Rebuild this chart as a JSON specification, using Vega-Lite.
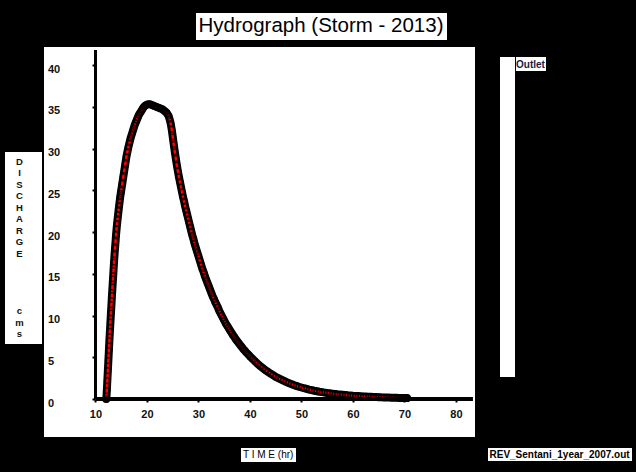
{
  "$schema": "https://vega.github.io/schema/vega-lite/v6.json",
  "width": 431,
  "height": 390,
  "autosize": {"type": "none"},
  "padding": {"left": 44, "top": 47, "right": 161, "bottom": 35},
  "background": "black",
  "config": {
    "view": {"fill": "white", "stroke": null},
    "font": "Liberation Sans",
    "axisX": {"offset": -38, "domain": false, "grid": false, "ticks": true, "tickSize": 3, "tickWidth": 2, "tickColor": "black", "labelPadding": 6,
      "labelFont": "Liberation Sans", "labelFontSize": 11, "labelFontWeight": "bold", "labelColor": "#111111"},
    "axisY": {"offset": -51, "domain": false, "grid": false, "ticks": true, "tickSize": 3, "tickWidth": 2, "tickColor": "black", "labelPadding": 44.5, "labelAlign": "left", "labelOffset": 4,
      "labelFont": "Liberation Sans", "labelFontSize": 11, "labelFontWeight": "bold", "labelColor": "#111111"}
  },
  "data": {"values": [
    {"t":12.1,"q":0},{"t":12.2,"q":1.0},{"t":12.3,"q":2.2},{"t":12.4,"q":3.4},{"t":12.5,"q":4.6},{"t":12.6,"q":5.8},{"t":12.7,"q":7.0},{"t":12.8,"q":8.1},{"t":12.9,"q":9.2},{"t":13.0,"q":10.3},
    {"t":13.1,"q":11.3},{"t":13.2,"q":12.4},{"t":13.3,"q":13.4},{"t":13.4,"q":14.4},{"t":13.5,"q":15.4},{"t":13.6,"q":16.4},{"t":13.7,"q":17.3},{"t":13.8,"q":18.1},{"t":13.9,"q":18.9},{"t":14.0,"q":19.7},
    {"t":14.1,"q":20.4},{"t":14.2,"q":21.0},{"t":14.3,"q":21.6},{"t":14.4,"q":22.1},{"t":14.5,"q":22.7},{"t":14.6,"q":23.2},{"t":14.7,"q":23.7},{"t":14.8,"q":24.2},{"t":14.9,"q":24.6},{"t":15.0,"q":25.0},
    {"t":15.2,"q":25.8},{"t":15.4,"q":26.6},{"t":15.6,"q":27.4},{"t":15.8,"q":28.2},{"t":16.0,"q":29.0},{"t":16.2,"q":29.6},{"t":16.4,"q":30.2},{"t":16.6,"q":30.7},{"t":16.8,"q":31.2},{"t":17.0,"q":31.6},
    {"t":17.2,"q":32.0},{"t":17.4,"q":32.4},{"t":17.6,"q":32.8},{"t":17.8,"q":33.1},{"t":18.0,"q":33.4},{"t":18.2,"q":33.7},{"t":18.4,"q":34.0},{"t":18.6,"q":34.2},{"t":18.8,"q":34.4},{"t":19.0,"q":34.6},
    {"t":19.2,"q":34.8},{"t":19.4,"q":35.0},{"t":19.6,"q":35.1},{"t":19.8,"q":35.2},{"t":20.0,"q":35.25},{"t":20.2,"q":35.3},{"t":20.4,"q":35.3},{"t":20.6,"q":35.3},{"t":20.8,"q":35.25},{"t":21.0,"q":35.2},
    {"t":21.2,"q":35.15},{"t":21.4,"q":35.1},{"t":21.6,"q":35.05},{"t":21.8,"q":35.0},{"t":22.0,"q":34.95},{"t":22.2,"q":34.9},{"t":22.4,"q":34.85},{"t":22.6,"q":34.8},{"t":22.8,"q":34.75},{"t":23.0,"q":34.7},
    {"t":23.2,"q":34.6},{"t":23.4,"q":34.5},{"t":23.6,"q":34.4},{"t":23.8,"q":34.3},{"t":24.0,"q":34.1},{"t":24.2,"q":33.9},{"t":24.4,"q":33.5},{"t":24.6,"q":33.0},{"t":24.8,"q":32.3},{"t":25.0,"q":31.4},
    {"t":25.2,"q":30.5},{"t":25.4,"q":29.6},{"t":25.6,"q":28.8},{"t":25.8,"q":28.0},{"t":26.0,"q":27.3},{"t":26.2,"q":26.6},{"t":26.4,"q":26.0},{"t":26.6,"q":25.4},{"t":26.8,"q":24.8},{"t":27.0,"q":24.2},
    {"t":27.2,"q":23.7},{"t":27.4,"q":23.1},{"t":27.6,"q":22.6},{"t":27.8,"q":22.1},{"t":28.0,"q":21.6},{"t":28.2,"q":21.1},{"t":28.4,"q":20.6},{"t":28.6,"q":20.1},{"t":28.8,"q":19.6},{"t":29.0,"q":19.2},
    {"t":29.2,"q":18.7},{"t":29.4,"q":18.3},{"t":29.6,"q":17.9},{"t":29.8,"q":17.5},{"t":30.0,"q":17.1},{"t":30.25,"q":16.6},{"t":30.5,"q":16.1},{"t":30.75,"q":15.6},{"t":31.0,"q":15.2},{"t":31.25,"q":14.7},
    {"t":31.5,"q":14.3},{"t":31.75,"q":13.9},{"t":32.0,"q":13.5},{"t":32.25,"q":13.1},{"t":32.5,"q":12.7},{"t":32.75,"q":12.3},{"t":33.0,"q":12.0},{"t":33.25,"q":11.6},{"t":33.5,"q":11.3},{"t":33.75,"q":11.0},
    {"t":34.0,"q":10.6},{"t":34.25,"q":10.3},{"t":34.5,"q":10.0},{"t":34.75,"q":9.7},{"t":35.0,"q":9.4},{"t":35.25,"q":9.1},{"t":35.5,"q":8.85},{"t":35.75,"q":8.6},{"t":36.0,"q":8.35},{"t":36.25,"q":8.1},
    {"t":36.5,"q":7.85},{"t":36.75,"q":7.6},{"t":37.0,"q":7.4},{"t":37.25,"q":7.15},{"t":37.5,"q":6.95},{"t":37.75,"q":6.75},{"t":38.0,"q":6.55},{"t":38.25,"q":6.35},{"t":38.5,"q":6.15},{"t":38.75,"q":5.95},
    {"t":39.0,"q":5.8},{"t":39.25,"q":5.6},{"t":39.5,"q":5.45},{"t":39.75,"q":5.3},{"t":40.0,"q":5.1},{"t":40.5,"q":4.8},{"t":41.0,"q":4.5},{"t":41.5,"q":4.2},{"t":42.0,"q":3.95},{"t":42.5,"q":3.7},
    {"t":43.0,"q":3.45},{"t":43.5,"q":3.25},{"t":44.0,"q":3.05},{"t":44.5,"q":2.85},{"t":45.0,"q":2.65},{"t":45.5,"q":2.5},{"t":46.0,"q":2.35},{"t":46.5,"q":2.2},{"t":47.0,"q":2.05},{"t":47.5,"q":1.92},
    {"t":48.0,"q":1.8},{"t":48.5,"q":1.68},{"t":49.0,"q":1.57},{"t":49.5,"q":1.47},{"t":50.0,"q":1.38},{"t":50.5,"q":1.29},{"t":51.0,"q":1.21},{"t":51.5,"q":1.13},{"t":52.0,"q":1.06},{"t":52.5,"q":0.99},
    {"t":53.0,"q":0.93},{"t":53.5,"q":0.87},{"t":54.0,"q":0.82},{"t":54.5,"q":0.77},{"t":55.0,"q":0.72},{"t":55.5,"q":0.68},{"t":56.0,"q":0.64},{"t":56.5,"q":0.6},{"t":57.0,"q":0.56},{"t":57.5,"q":0.53},
    {"t":58.0,"q":0.5},{"t":58.5,"q":0.47},{"t":59.0,"q":0.44},{"t":59.5,"q":0.42},{"t":60.0,"q":0.39},{"t":60.5,"q":0.37},{"t":61.0,"q":0.35},{"t":61.5,"q":0.33},{"t":62.0,"q":0.31},{"t":62.5,"q":0.29},
    {"t":63.0,"q":0.27},{"t":63.5,"q":0.26},{"t":64.0,"q":0.24},{"t":64.5,"q":0.23},{"t":65.0,"q":0.22},{"t":65.5,"q":0.2},{"t":66.0,"q":0.19},{"t":66.5,"q":0.18},{"t":67.0,"q":0.17},{"t":67.5,"q":0.16},
    {"t":68.0,"q":0.15},{"t":68.5,"q":0.14},{"t":69.0,"q":0.13},{"t":69.5,"q":0.12},{"t":70.0,"q":0.12},{"t":70.5,"q":0.11}
  ]},
  "layer": [
    {
      "mark": {"type": "line", "color": "black", "strokeWidth": 8, "strokeCap": "round", "strokeJoin": "round"},
      "encoding": {
        "x": {"field": "t", "type": "quantitative", "scale": {"domain": [0, 83.7], "nice": false, "zero": false},
          "axis": {"title": null, "values": [10, 20, 30, 40, 50, 60, 70, 80]}},
        "y": {"field": "q", "type": "quantitative", "scale": {"domain": [-4.55, 42.16], "nice": false, "zero": false},
          "axis": {"title": null, "values": [0, 5, 10, 15, 20, 25, 30, 35, 40]}}
      }
    },
    {
      "mark": {"type": "line", "strokeWidth": 2.5},
      "encoding": {
        "x": {"field": "t", "type": "quantitative", "axis": {"title": null, "values": [10, 20, 30, 40, 50, 60, 70, 80]}},
        "y": {"field": "q", "type": "quantitative", "axis": {"title": null, "values": [0, 5, 10, 15, 20, 25, 30, 35, 40]}},
        "color": {"datum": "Outlet", "type": "nominal", "scale": {"range": ["#ff0000"]},
          "legend": {"orient": "none", "legendX": 456, "legendY": 10, "title": null, "padding": 0,
            "symbolType": "M-1,-1H1V41.67H-1Z M1.13,-1H5.13V0.87H1.13Z", "symbolSize": 225, "symbolStrokeWidth": 0,
            "labelOffset": 1, "labelFont": "Liberation Sans", "labelFontSize": 10, "labelFontWeight": "bold", "labelColor": "#1a1a40", "labelLimit": 1000,
            "encode": {"symbols": {"update": {"fill": {"value": "white"}, "stroke": {"value": "white"}, "strokeWidth": {"value": 0}, "opacity": {"value": 1}}}}}}
      }
    },
    {
      "mark": {"type": "point", "filled": false, "color": "black", "strokeWidth": 1.5, "size": 32},
      "encoding": {
        "x": {"field": "t", "type": "quantitative", "axis": {"title": null, "values": [10, 20, 30, 40, 50, 60, 70, 80]}},
        "y": {"field": "q", "type": "quantitative", "axis": {"title": null, "values": [0, 5, 10, 15, 20, 25, 30, 35, 40]}}
      }
    },
    {
      "data": {"values": [{}]},
      "mark": {"type": "rule", "color": "black", "strokeWidth": 3},
      "encoding": {
        "x": {"datum": 10, "type": "quantitative", "axis": {"title": null, "values": [10, 20, 30, 40, 50, 60, 70, 80]}},
        "y": {"datum": 0, "type": "quantitative", "axis": {"title": null, "values": [0, 5, 10, 15, 20, 25, 30, 35, 40]}},
        "y2": {"datum": 41.8}
      }
    },
    {
      "data": {"values": [{}]},
      "mark": {"type": "rule", "color": "black", "strokeWidth": 4},
      "encoding": {
        "x": {"datum": 10, "type": "quantitative", "axis": {"title": null, "values": [10, 20, 30, 40, 50, 60, 70, 80]}},
        "x2": {"datum": 83.3},
        "y": {"datum": 0, "type": "quantitative", "axis": {"title": null, "values": [0, 5, 10, 15, 20, 25, 30, 35, 40]}}
      }
    },
    {
      "data": {"values": [{}]},
      "mark": {"type": "point", "filled": true, "opacity": 0},
      "encoding": {
        "x": {"datum": 40, "type": "quantitative", "axis": {"title": null, "values": [10, 20, 30, 40, 50, 60, 70, 80]}},
        "y": {"datum": 20, "type": "quantitative", "axis": {"title": null, "values": [0, 5, 10, 15, 20, 25, 30, 35, 40]}},
        "opacity": {"datum": "A", "type": "ordinal", "scale": {"range": [0]},
          "legend": {"orient": "none", "legendX": 152, "legendY": -34, "title": null, "padding": 3, "fillColor": "white",
            "symbolSize": 0, "symbolOpacity": 0, "symbolStrokeWidth": 0, "labelOffset": -21,
            "labelExpr": "'Hydrograph (Storm - 2013)'", "labelFont": "Liberation Sans", "labelFontSize": 20.5, "labelColor": "black", "labelLimit": 1000,
            "encode": {"symbols": {"update": {"opacity": {"value": 0}, "size": {"value": 0}}}}}},
        "fill": {"datum": "B", "type": "nominal", "scale": {"range": ["white"]},
          "legend": {"orient": "none", "legendX": -39, "legendY": 105, "title": null, "padding": 5, "fillColor": "white",
            "symbolSize": 0, "symbolOpacity": 0, "symbolStrokeWidth": 0, "labelOffset": 0, "labelAlign": "center",
            "labelExpr": "['D','I','S','C','H','A','R','G','E','\u2800\u2800\u2800\u2800\u2800','\u2800','\u2800','\u2800','c','m','s']", "labelFont": "Liberation Sans", "labelFontSize": 9.5, "labelFontWeight": "bold", "labelColor": "#111111", "labelLimit": 1000,
            "encode": {"symbols": {"update": {"opacity": {"value": 0}, "size": {"value": 0}}}, "labels": {"update": {"lineHeight": {"value": 11.5}}}}}},
        "stroke": {"datum": "C", "type": "nominal", "scale": {"range": ["white"]},
          "legend": {"orient": "none", "legendX": 197, "legendY": 401, "title": null, "padding": 2, "fillColor": "white",
            "symbolSize": 0, "symbolOpacity": 0, "symbolStrokeWidth": 0, "labelOffset": -10,
            "labelExpr": "'T I M E (hr)'", "labelFont": "Liberation Sans", "labelFontSize": 10, "labelColor": "black", "labelLimit": 1000,
            "encode": {"symbols": {"update": {"opacity": {"value": 0}, "size": {"value": 0}}}}}},
        "shape": {"datum": "D", "type": "nominal", "scale": {"range": ["circle"]},
          "legend": {"orient": "none", "legendX": 444, "legendY": 401, "title": null, "padding": 1.5, "fillColor": "white",
            "symbolSize": 0, "symbolOpacity": 0, "symbolStrokeWidth": 0, "labelOffset": -10,
            "labelExpr": "'REV_Sentani_1year_2007.out'", "labelFont": "Liberation Sans", "labelFontSize": 10, "labelFontWeight": "bold", "labelColor": "black", "labelLimit": 1000,
            "encode": {"symbols": {"update": {"opacity": {"value": 0}, "size": {"value": 0}}}}}}
      }
    }
  ]
}
